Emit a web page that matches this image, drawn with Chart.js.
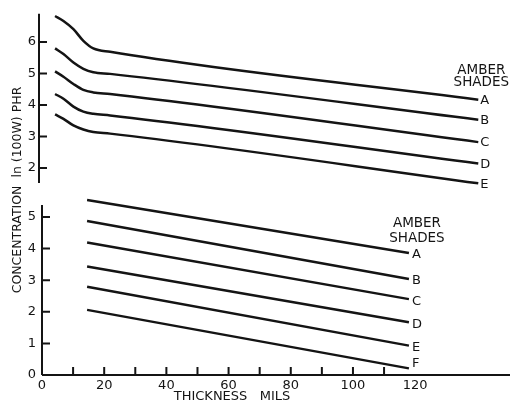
<!DOCTYPE html>
<html>
<head>
<meta charset="utf-8">
<script src="https://cdn.jsdelivr.net/npm/chart.js@4"></script>
<style>
  body { margin: 0; background: #fff; }
  #wrap { position: relative; width: 510px; height: 405px; }
  canvas { position: absolute; left: 0; top: 0; }
</style>
</head>
<body>
<div id="wrap">
  <canvas id="lower" width="510" height="405"></canvas>
  <canvas id="upper" width="510" height="405"></canvas>
</div>
<script>
// upper panel: curved shades A-E (thickness in mils -> ln(100W) PHR)
const upperX = [4.2, 6.9, 10.1, 13.3, 16.5, 21.9, 140.3];
const upperA = [6.83, 6.67, 6.41, 6.04, 5.80, 5.69, 4.17];
const upperB = [5.80, 5.62, 5.35, 5.15, 5.04, 4.99, 3.53];
const upperC = [5.07, 4.90, 4.67, 4.48, 4.40, 4.35, 2.82];
const upperD = [4.35, 4.20, 3.95, 3.79, 3.72, 3.67, 2.14];
const upperE = [3.70, 3.56, 3.35, 3.22, 3.14, 3.09, 1.51];
const upperShades = ['A', 'B', 'C', 'D', 'E'];
const upperYTicks = [2, 3, 4, 5, 6];

// lower panel: straight shades A-F
const lowerX = [14.5, 118];
const lowerA = [5.54, 3.86];
const lowerB = [4.87, 3.04];
const lowerC = [4.19, 2.40];
const lowerD = [3.43, 1.67];
const lowerE = [2.79, 0.93];
const lowerF = [2.06, 0.21];
const lowerShades = ['A', 'B', 'C', 'D', 'E', 'F'];
const lowerYTicks = [0, 1, 2, 3, 4, 5];

const xTickMarks = [10, 20, 30, 40, 50, 60, 70, 80, 90, 100, 110];
const xTickLabels = [0, 20, 40, 60, 80, 100, 120];

const INK = '#141414';
const FONT = '"DejaVu Sans", sans-serif';

function series(xs, ys) {
  return xs.map((x, i) => ({ x, y: ys[i] }));
}

// axes with inward ticks, end letters, titles
const frame = {
  id: 'frame',
  afterDraw(chart, args, o) {
    const { ctx, chartArea: a, scales: { x, y } } = chart;
    ctx.save();
    ctx.strokeStyle = INK;
    ctx.fillStyle = INK;
    ctx.lineWidth = 2;
    const ax = a.left + o.axisShift;
    ctx.beginPath();
    ctx.moveTo(ax, y.getPixelForValue(o.axisTop));
    ctx.lineTo(ax, a.bottom);
    o.yTicks.forEach(v => {
      if (v === 0) return;
      const py = y.getPixelForValue(v);
      ctx.moveTo(ax, py);
      ctx.lineTo(ax + 8, py);
    });
    if (o.xAxis) {
      ctx.moveTo(a.left, a.bottom);
      ctx.lineTo(a.right, a.bottom);
      xTickMarks.forEach(v => {
        const px = x.getPixelForValue(v);
        ctx.moveTo(px, a.bottom);
        ctx.lineTo(px, a.bottom - 8);
      });
    }
    ctx.stroke();

    // shade letters at line ends
    ctx.font = '13px ' + FONT;
    ctx.textAlign = 'left';
    ctx.textBaseline = 'middle';
    chart.data.datasets.forEach((ds, i) => {
      const p = ds.data[ds.data.length - 1];
      const px = x.getPixelForValue(p.x);
      const py = y.getPixelForValue(p.y);
      const dy = (i === o.shades.length - 1 && o.lastDy !== undefined) ? o.lastDy : o.labelDy;
      ctx.fillText(o.shades[i], px + o.labelDx, py + dy);
    });

    // AMBER SHADES heading
    const first = chart.data.datasets[0].data;
    const end = first[first.length - 1];
    const hx = x.getPixelForValue(end.x) + o.headDx;
    const hy = y.getPixelForValue(end.y);
    ctx.textAlign = 'center';
    ctx.font = '13.5px ' + FONT;
    ctx.fillText('AMBER', hx, hy + o.headDy1);
    ctx.fillText('SHADES', hx, hy + o.headDy2);

    if (o.titles) {
      ctx.font = '13px ' + FONT;
      ctx.fillText('THICKNESS   MILS', 232, 397);
      ctx.save();
      ctx.translate(18, 190);
      ctx.rotate(-Math.PI / 2);
      ctx.font = '12.5px ' + FONT;
      ctx.fillText('CONCENTRATION  ln (100W) PHR', 0, 0);
      ctx.restore();
    }
    ctx.restore();
  }
};

function lineSet(data, curved) {
  return {
    data,
    borderColor: INK,
    borderWidth: 2.5,
    pointRadius: 0,
    fill: false,
    clip: false,
    cubicInterpolationMode: curved ? 'monotone' : 'default',
    tension: 0
  };
}

function yAxis(min, max, ticks) {
  return {
    type: 'linear',
    min, max,
    grid: { display: false, drawTicks: false },
    border: { display: false },
    afterFit: s => { s.width = 42; },
    afterBuildTicks: s => { s.ticks = ticks.map(v => ({ value: v })); },
    ticks: { color: INK, padding: 6, font: { family: FONT, size: 13 } }
  };
}

new Chart(document.getElementById('upper'), {
  type: 'line',
  data: {
    datasets: [upperA, upperB, upperC, upperD, upperE].map(ys => lineSet(series(upperX, ys), true))
  },
  options: {
    responsive: false,
    animation: false,
    layout: { padding: { top: 13, bottom: 222, left: 0, right: 0 } },
    plugins: {
      legend: { display: false },
      tooltip: { enabled: false },
      frame: {
        axisShift: -3, axisTop: 6.9, yTicks: upperYTicks, xAxis: false, shades: upperShades,
        labelDx: 2, labelDy: 1, headDx: 3, headDy1: -29, headDy2: -17, titles: false
      }
    },
    scales: {
      x: { type: 'linear', min: 0, max: 150.5, display: false },
      y: yAxis(1.52, 6.9, upperYTicks)
    }
  },
  plugins: [frame]
});

new Chart(document.getElementById('lower'), {
  type: 'line',
  data: {
    datasets: [lowerA, lowerB, lowerC, lowerD, lowerE, lowerF].map(ys => lineSet(series(lowerX, ys), false))
  },
  options: {
    responsive: false,
    animation: false,
    layout: { padding: { top: 198, bottom: 0, left: 0, right: 0 } },
    plugins: {
      legend: { display: false },
      tooltip: { enabled: false },
      frame: {
        axisShift: 0, axisTop: 5.38, yTicks: lowerYTicks, xAxis: true, shades: lowerShades,
        labelDx: 3, labelDy: 2, lastDy: -5, headDx: 8, headDy1: -29, headDy2: -14, titles: true
      }
    },
    scales: {
      x: {
        type: 'linear',
        min: 0, max: 150.5,
        grid: { display: false, drawTicks: false },
        border: { display: false },
        afterFit: s => { s.height = 30; },
        afterBuildTicks: s => { s.ticks = xTickLabels.map(v => ({ value: v })); },
        ticks: { color: INK, padding: 3, autoSkip: false, maxRotation: 0, font: { family: FONT, size: 13 } }
      },
      y: yAxis(0, 5.6, lowerYTicks)
    }
  },
  plugins: [frame]
});
</script>
</body>
</html>
